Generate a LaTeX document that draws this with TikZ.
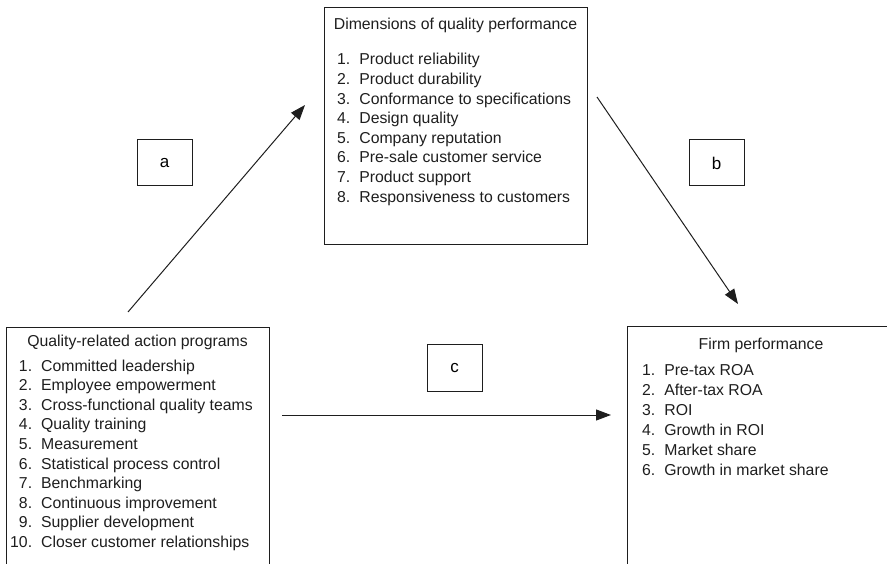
\documentclass[tikz,border=0pt]{standalone}
\usepackage{fontspec}
\setmainfont{Liberation Sans}
\usetikzlibrary{arrows.meta}
\definecolor{ink}{HTML}{1E1E1E}
% numbered list: right-aligned numbers, fixed text column
\newcommand\qlist[1]{\begin{tabular}[t]{@{}r@{\hspace{9pt}}l@{}}#1\end{tabular}}
\begin{document}
\begin{tikzpicture}[x=1pt,y=-1pt,
  panel/.style={draw=ink, line width=1.2pt, inner sep=0pt, anchor=north west},
  tagbox/.style={draw=ink, line width=1pt, minimum width=55pt, minimum height=46pt,
    inner sep=0pt, font=\fontsize{17}{20}\selectfont},
  heading/.style={inner sep=0pt, anchor=base, text=ink, font=\fontsize{15.8}{19.6}\selectfont},
  listing/.style={inner sep=0pt, anchor=base west, text=ink, font=\fontsize{15.8}{19.6}\selectfont},
  link/.style={draw=ink, line width=1pt, -{Triangle[length=15pt,width=11pt]}}]
\useasboundingbox (0,0) rectangle (887,564);
\clip (0,0) rectangle (887,564);

% three panels
\node[panel, minimum width=263pt, minimum height=237pt] (dims) at (324,7) {};
\node[panel, minimum width=263pt, minimum height=300pt] (prog) at (6,327) {};
\node[panel, minimum width=270pt, minimum height=300pt] (firm) at (627,326) {};

% panel contents
\node[heading] (dimsT) at (455.5,30) {Dimensions of quality performance};
\node[listing] (dimsL) at (337,65) {\qlist{
  1. & Product reliability\\
  2. & Product durability\\
  3. & Conformance to specifications\\
  4. & Design quality\\
  5. & Company reputation\\
  6. & Pre-sale customer service\\
  7. & Product support\\
  8. & Responsiveness to customers}};

\node[heading] (progT) at (137.5,347) {Quality-related action programs};
\node[listing] (progL) at (10,371) {\qlist{
  1. & Committed leadership\\
  2. & Employee empowerment\\
  3. & Cross-functional quality teams\\
  4. & Quality training\\
  5. & Measurement\\
  6. & Statistical process control\\
  7. & Benchmarking\\
  8. & Continuous improvement\\
  9. & Supplier development\\
  10. & Closer customer relationships}};

\node[heading] (firmT) at (761,349) {Firm performance};
\node[listing, font=\fontsize{15.8}{20}\selectfont] (firmL) at (642,375.5) {\qlist{
  1. & Pre-tax ROA\\
  2. & After-tax ROA\\
  3. & ROI\\
  4. & Growth in ROI\\
  5. & Market share\\
  6. & Growth in market share}};

% path labels
\node[tagbox] (ta) at (164.5,163) {a};
\node[tagbox] (tb) at (716.5,163) {b};
\node[tagbox] (tc) at (454.5,368) {c};

% connector end points
\coordinate (aFrom) at (128,312);
\coordinate (aTo) at (305,105);
\coordinate (bFrom) at (597,97);
\coordinate (bTo) at (738,304);
\coordinate (cFrom) at (282,415);
\coordinate (cTo) at (611,415);

\draw[link] (aFrom) -- (aTo);
\draw[link] (bFrom) -- (bTo);
\draw[link] (cFrom) -- (cTo);
\end{tikzpicture}
\end{document}
